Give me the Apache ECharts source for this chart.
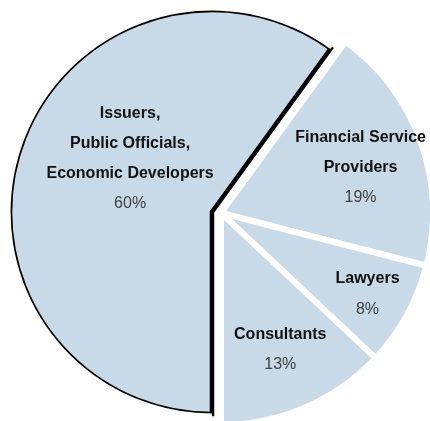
<!DOCTYPE html>
<html><head><meta charset="utf-8">
<script src="https://cdn.jsdelivr.net/npm/echarts@6/dist/echarts.min.js"></script>
<style>html,body{margin:0;padding:0;background:#fff}#c{width:430px;height:421px}</style>
</head><body><div id="c"></div>
<script>
const categories = ["Issuers,\nPublic Officials,\nEconomic Developers", "Financial Service\nProviders", "Lawyers", "Consultants"];
const values = [60, 19, 8, 13];
const labelOffsets = [[17, -21], [37, -8], [51, 29], [16, 37]];

const fill = '#c8d9e8';
const fmt = p => p.name.split('\n').map(s => '{b|' + s + '}').join('\n') + '\n{p|' + p.value + '%}';
const rich = {
  b: {fontFamily: 'Liberation Sans, Arial', fontWeight: 'bold', fontSize: 16, color: '#111', lineHeight: 30},
  p: {fontFamily: 'Liberation Sans, Arial', fontSize: 16, color: '#404040', lineHeight: 31}
};
const hidden = {color: 'transparent', borderWidth: 0};
const noLabel = {show: false};

const mainData = categories.map((c, i) => i === 0
  ? {name: c, value: values[i], itemStyle: {color: fill, borderColor: '#000', borderWidth: 4.5, borderJoin: 'miter'},
     label: {show: true, position: 'inside', formatter: fmt, rich: rich, offset: labelOffsets[i]}}
  : {name: c, value: values[i], itemStyle: hidden, label: noLabel});

const ringData = categories.map((c, i) => ({name: c, value: values[i],
  itemStyle: i === 0 ? {color: '#fff', borderWidth: 0} : hidden, label: noLabel}));

const groupData = categories.map((c, i) => i === 0
  ? {name: c, value: values[i], itemStyle: hidden, label: noLabel}
  : {name: c, value: values[i], itemStyle: {color: fill, borderColor: '#fff', borderWidth: 6},
     label: {show: true, position: 'inside', formatter: fmt, rich: rich, offset: labelOffsets[i]}});

const common = {type: 'pie', startAngle: -90, clockwise: true, silent: true, animation: false,
  avoidLabelOverlap: false, labelLine: {show: false}, minAngle: 0, emphasis: {disabled: true}};

const chart = echarts.init(document.getElementById('c'), null, {renderer: 'canvas'});
chart.setOption({
  backgroundColor: '#fff',
  series: [
    Object.assign({}, common, {name: 'main', center: [212, 212], radius: [0, 202], data: mainData, z: 2}),
    Object.assign({}, common, {name: 'ring', center: [212, 212], radius: [201.4, 207], data: ringData, z: 3}),
    Object.assign({}, common, {name: 'group', center: [221, 213], radius: [0, 212], data: groupData, z: 4})
  ]
});
</script></body></html>
